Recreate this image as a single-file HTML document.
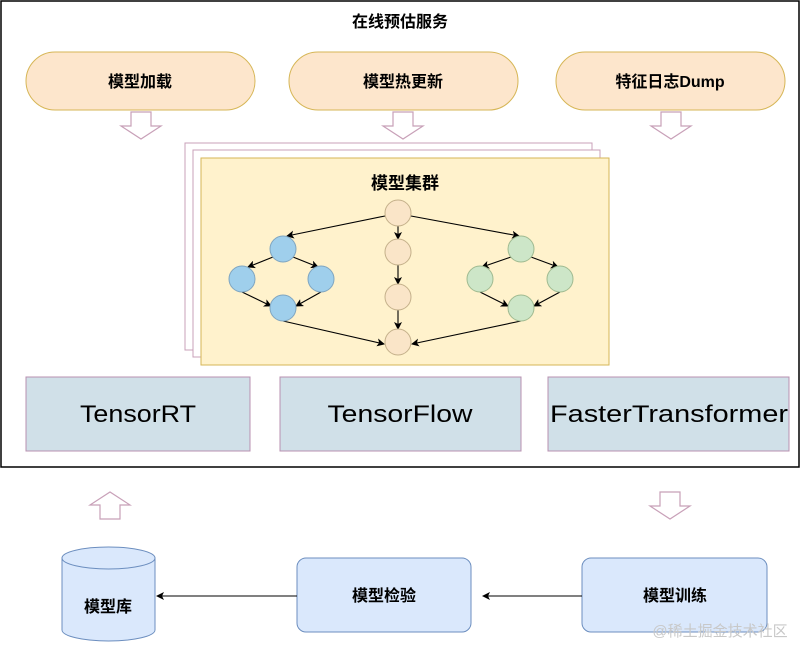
<!DOCTYPE html>
<html><head><meta charset="utf-8"><style>
html,body{margin:0;padding:0;background:#fff;width:801px;height:645px;overflow:hidden}
text{font-family:"Liberation Sans","Noto Sans CJK SC",sans-serif}
</style></head><body>
<svg width="801" height="645" viewBox="0 0 801 645" xmlns="http://www.w3.org/2000/svg">
<defs><marker id="a" markerWidth="8" markerHeight="8" refX="7" refY="4" orient="auto" markerUnits="userSpaceOnUse"><path d="M0,0 L8,4 L0,8 L2,4z" fill="#000"/></marker></defs>
<rect x="1" y="1" width="798" height="466" fill="#fff" stroke="#000" stroke-width="1.5"/>
<text x="400" y="27" font-size="16" text-anchor="middle" font-weight="bold">在线预估服务</text>
<g fill="#fde6cc" stroke="#d6b656" stroke-width="1">
<rect x="26" y="52" width="229" height="58" rx="29"/>
<rect x="289" y="52" width="229" height="58" rx="29"/>
<rect x="556" y="52" width="229" height="58" rx="29"/>
</g>
<g font-size="16" text-anchor="middle" font-weight="bold">
<text x="140" y="87">模型加载</text><text x="403" y="87">模型热更新</text><text x="670" y="87">特征日志Dump</text>
</g>
<g fill="#fff" stroke="#c8a0b8" stroke-width="1.2">
<path d="M131,112 h20 v14 h10 l-20,13 l-20,-13 h10z"/>
<path d="M393,112 h20 v14 h10 l-20,13 l-20,-13 h10z"/>
<path d="M661,112 h20 v14 h10 l-20,13 l-20,-13 h10z"/>
<path d="M100,519 v-14 h-10 l20,-13 l20,13 h-10 v14z"/>
<path d="M660,492 h20 v14 h10 l-20,13 l-20,-13 h10z"/>
</g>
<rect x="185" y="143" width="407" height="207" fill="#fff" stroke="#c8a0b8"/>
<rect x="193" y="150" width="407" height="207" fill="#fff" stroke="#c8a0b8"/>
<rect x="201" y="158" width="408" height="207" fill="#fff2cc" stroke="#d6b656"/>
<text x="405" y="189" font-size="17" text-anchor="middle" font-weight="bold">模型集群</text>
<g stroke="#000" stroke-width="1.1" marker-end="url(#a)">
<line x1="385" y1="216" x2="287" y2="236"/>
<line x1="411" y1="216" x2="519" y2="236"/>
<line x1="398" y1="226" x2="398" y2="239"/>
<line x1="398" y1="265" x2="398" y2="284"/>
<line x1="398" y1="310" x2="398" y2="329"/>
<line x1="273" y1="257" x2="248" y2="267"/>
<line x1="293" y1="257" x2="318" y2="267"/>
<line x1="242" y1="292" x2="271" y2="306"/>
<line x1="321" y1="292" x2="296" y2="306"/>
<line x1="283" y1="321" x2="384" y2="344"/>
<line x1="511" y1="257" x2="482" y2="267"/>
<line x1="531" y1="257" x2="558" y2="267"/>
<line x1="480" y1="292" x2="508" y2="306"/>
<line x1="560" y1="292" x2="534" y2="306"/>
<line x1="521" y1="321" x2="412" y2="344"/>
</g>
<g stroke="#c4b08a" fill="#fae5c8">
<circle cx="398" cy="213" r="13"/><circle cx="398" cy="252" r="13"/><circle cx="398" cy="297" r="13"/><circle cx="398" cy="342" r="13"/>
</g>
<g stroke="#7fa5c0" fill="#9fcfec">
<circle cx="283" cy="249" r="13"/><circle cx="242" cy="279" r="13"/><circle cx="321" cy="279" r="13"/><circle cx="283" cy="308" r="13"/>
</g>
<g stroke="#9fba90" fill="#cde6c8">
<circle cx="521" cy="249" r="13"/><circle cx="480" cy="279" r="13"/><circle cx="560" cy="279" r="13"/><circle cx="521" cy="308" r="13"/>
</g>
<g fill="#d0e0e8" stroke="#b890b0">
<rect x="26" y="377" width="224" height="74"/>
<rect x="280" y="377" width="241" height="74"/>
<rect x="548" y="377" width="241" height="74"/>
</g>
<g font-size="24" text-anchor="middle" lengthAdjust="spacingAndGlyphs">
<text x="138" y="422" textLength="116" lengthAdjust="spacingAndGlyphs">TensorRT</text>
<text x="400" y="422" textLength="145" lengthAdjust="spacingAndGlyphs">TensorFlow</text>
<text x="669" y="422" textLength="238" lengthAdjust="spacingAndGlyphs">FasterTransformer</text>
</g>
<path d="M62,558 v72 a46.5,11 0 0 0 93,0 v-72" fill="#dae8fc" stroke="#6c8ebf"/>
<ellipse cx="108.5" cy="558" rx="46.5" ry="11" fill="#dae8fc" stroke="#6c8ebf"/>
<text x="108" y="612" font-size="16" text-anchor="middle" font-weight="bold">模型库</text>
<rect x="297" y="558" width="174" height="74" rx="9" fill="#dae8fc" stroke="#6c8ebf"/>
<rect x="582" y="558" width="185" height="74" rx="9" fill="#dae8fc" stroke="#6c8ebf"/>
<text x="384" y="601" font-size="16" text-anchor="middle" font-weight="bold">模型检验</text>
<text x="675" y="601" font-size="16" text-anchor="middle" font-weight="bold">模型训练</text>
<g stroke="#000" stroke-width="1.1" marker-end="url(#a)">
<line x1="297" y1="596" x2="157" y2="596"/>
<line x1="582" y1="596" x2="483" y2="596"/>
</g>
<text x="720" y="636" font-size="15" text-anchor="middle" fill="#c8c8c8">@稀土掘金技术社区</text>
</svg>
</body></html>
